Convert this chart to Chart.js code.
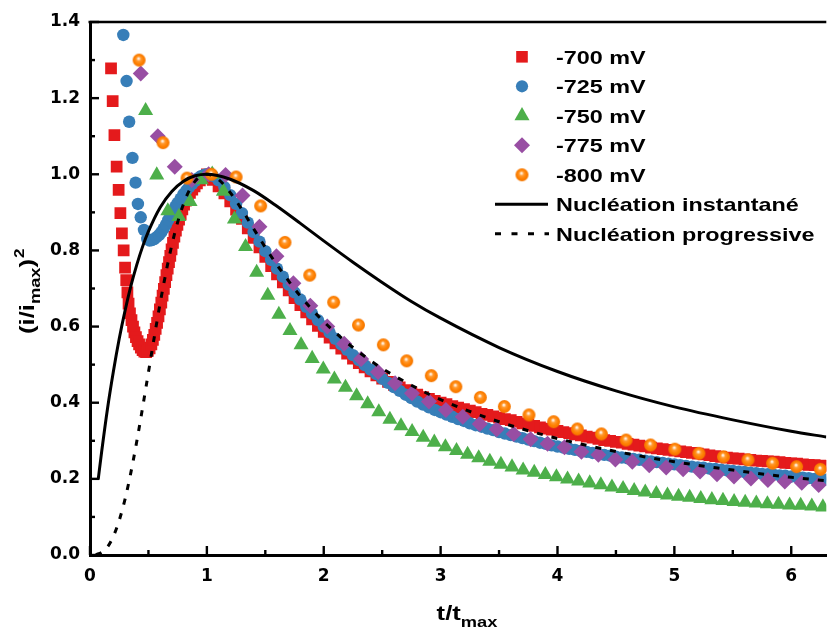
<!DOCTYPE html>
<html>
<head>
<meta charset="utf-8">
<script src="https://cdn.jsdelivr.net/npm/chart.js@4/dist/chart.umd.min.js"></script>
<style>
  html, body { margin: 0; padding: 0; background: #fff; overflow: hidden; width: 833px; height: 631px; }
  #wrap { position: absolute; left: 0; top: 0; width: 835px; height: 631px; }
</style>
</head>
<body>
<div id="wrap"><canvas id="c" width="835" height="631"></canvas></div>
<script>
// ---- Axis ticks ----
const xTicks = [0, 1, 2, 3, 4, 5, 6];
const xMinorTicks = [0.5, 1.5, 2.5, 3.5, 4.5, 5.5];
const yTicks = [0, 0.2, 0.4, 0.6, 0.8, 1.0, 1.2, 1.4];
const yMinorTicks = [0.1, 0.3, 0.5, 0.7, 0.9, 1.1, 1.3];

// ---- Shared t/tmax sampling of the long-time part of the -700 / -725 mV transients ----
const tailT = [
  1.00,1.05,1.10,1.15,1.20,1.25,1.30,1.35,1.40,1.45,
  1.50,1.55,1.60,1.65,1.70,1.75,1.80,1.85,1.90,1.95,
  2.00,2.05,2.10,2.15,2.20,2.25,2.30,2.35,2.40,2.45,
  2.50,2.55,2.60,2.65,2.70,2.75,2.80,2.85,2.90,2.95,
  3.00,3.05,3.10,3.15,3.20,3.25,3.30,3.35,3.40,3.45,
  3.50,3.55,3.60,3.65,3.70,3.75,3.80,3.85,3.90,3.95,
  4.00,4.05,4.10,4.15,4.20,4.25,4.30,4.35,4.40,4.45,
  4.50,4.55,4.60,4.65,4.70,4.75,4.80,4.85,4.90,4.95,
  5.00,5.05,5.10,5.15,5.20,5.25,5.30,5.35,5.40,5.45,
  5.50,5.55,5.60,5.65,5.70,5.75,5.80,5.85,5.90,5.95,
  6.00,6.05,6.10,6.15,6.20,6.25,6.30
];

// ---- -700 mV ----
const t700early = [
  0.15,0.18,0.194,0.209,0.228,0.245,0.26,0.273,0.288,0.3,
  0.31,0.32,0.33,0.342,0.355,0.368,0.38,0.393,0.407,0.42,
  0.435,0.45,0.465,0.48,0.495,0.51,0.525,0.538,0.55,0.562,
  0.574,0.586,0.598,0.61,0.621,0.632,0.643,0.654,0.665,0.676,
  0.687,0.698,0.71,0.722,0.735,0.748,0.762,0.776,0.79,0.805,
  0.82,0.837,0.855,0.875,0.895,0.915,0.94,0.965
];
const i700early = [
  1.42,1.278,1.192,1.103,1.02,0.959,0.898,0.845,0.8,0.755,
  0.722,0.69,0.66,0.635,0.617,0.6,0.585,0.572,0.562,0.553,
  0.545,0.538,0.534,0.533,0.536,0.543,0.553,0.565,0.578,0.594,
  0.61,0.627,0.645,0.663,0.681,0.699,0.717,0.735,0.752,0.769,
  0.786,0.803,0.82,0.836,0.852,0.867,0.881,0.895,0.908,0.92,
  0.931,0.941,0.951,0.96,0.968,0.976,0.984,0.992
];
const i700tail = [
  1.0,0.985,0.968,0.95,0.929,0.907,0.883,0.858,0.833,0.808,
  0.783,0.759,0.737,0.716,0.695,0.675,0.656,0.637,0.619,0.602,
  0.586,0.571,0.556,0.542,0.529,0.516,0.504,0.493,0.482,0.472,
  0.463,0.455,0.447,0.44,0.433,0.427,0.421,0.415,0.41,0.405,
  0.4,0.396,0.391,0.387,0.383,0.379,0.375,0.371,0.368,0.364,
  0.361,0.357,0.354,0.35,0.346,0.343,0.339,0.335,0.332,0.329,
  0.326,0.323,0.32,0.317,0.314,0.311,0.308,0.305,0.302,0.3,
  0.297,0.295,0.292,0.29,0.287,0.285,0.282,0.28,0.278,0.276,
  0.274,0.272,0.27,0.268,0.266,0.264,0.262,0.26,0.258,0.256,
  0.254,0.253,0.251,0.25,0.248,0.247,0.246,0.245,0.244,0.242,
  0.241,0.24,0.238,0.237,0.236,0.235,0.234
];

// ---- -725 mV ----
const t725early = [
  0.285,0.313,0.335,0.363,0.39,0.41,0.434,0.462,0.49,0.51,
  0.53,0.55,0.57,0.59,0.61,0.63,0.65,0.67,0.69,0.71,
  0.73,0.75,0.775,0.8,0.825,0.85,0.875,0.9,0.925,0.95,
  0.975
];
const i725early = [
  1.366,1.245,1.138,1.043,0.978,0.922,0.887,0.854,0.83,0.826,
  0.827,0.83,0.835,0.84,0.848,0.857,0.868,0.88,0.892,0.904,
  0.915,0.925,0.936,0.948,0.958,0.967,0.975,0.983,0.99,0.995,
  0.998
];
const i725tail = [
  1.0,0.996,0.984,0.966,0.945,0.922,0.898,0.873,0.848,0.823,
  0.798,0.775,0.752,0.731,0.71,0.69,0.671,0.652,0.634,0.617,
  0.6,0.584,0.568,0.553,0.539,0.525,0.512,0.499,0.487,0.475,
  0.463,0.452,0.441,0.431,0.421,0.412,0.403,0.395,0.388,0.381,
  0.375,0.369,0.363,0.357,0.352,0.346,0.341,0.337,0.332,0.328,
  0.323,0.319,0.315,0.311,0.307,0.303,0.299,0.295,0.292,0.288,
  0.285,0.282,0.279,0.276,0.273,0.271,0.268,0.266,0.263,0.261,
  0.258,0.256,0.254,0.252,0.25,0.248,0.246,0.244,0.242,0.24,
  0.238,0.236,0.234,0.232,0.23,0.229,0.227,0.226,0.224,0.222,
  0.221,0.219,0.218,0.216,0.215,0.213,0.212,0.211,0.209,0.208,
  0.206,0.205,0.203,0.202,0.2,0.199,0.198
];

// ---- -750 mV ----
const t750 = [
  0.381,0.476,0.571,0.666,0.761,0.856,0.951,1.046,1.141,1.236,
  1.331,1.426,1.521,1.616,1.711,1.806,1.901,1.996,2.091,2.186,
  2.281,2.376,2.471,2.566,2.661,2.756,2.851,2.946,3.041,3.136,
  3.231,3.326,3.421,3.516,3.611,3.706,3.801,3.896,3.991,4.086,
  4.181,4.276,4.371,4.466,4.561,4.656,4.751,4.846,4.941,5.036,
  5.131,5.226,5.321,5.416,5.511,5.606,5.701,5.796,5.891,5.986,
  6.081,6.176,6.271
];
const i750 = [
  1.42,1.167,0.998,0.904,0.889,0.928,0.985,1.0,0.955,0.882,
  0.81,0.742,0.682,0.632,0.589,0.552,0.516,0.488,0.462,0.44,
  0.418,0.397,0.376,0.356,0.339,0.324,0.309,0.296,0.284,0.274,
  0.264,0.255,0.246,0.238,0.231,0.223,0.217,0.211,0.205,0.199,
  0.194,0.189,0.184,0.178,0.174,0.169,0.165,0.161,0.157,0.154,
  0.151,0.148,0.145,0.143,0.14,0.138,0.136,0.134,0.133,0.131,
  0.13,0.128,0.126
];

// ---- -775 mV ----
const t775 = [
  0.434,0.58,0.725,0.87,1.015,1.16,1.305,1.45,1.595,1.74,
  1.885,2.03,2.175,2.32,2.465,2.61,2.755,2.9,3.045,3.19,
  3.335,3.48,3.625,3.77,3.915,4.06,4.205,4.35,4.495,4.64,
  4.785,4.93,5.075,5.22,5.365,5.51,5.655,5.8,5.945,6.09,
  6.235
];
const i775 = [
  1.265,1.1,1.02,0.985,1.0,0.998,0.944,0.862,0.785,0.714,
  0.655,0.6,0.555,0.515,0.481,0.451,0.425,0.403,0.381,0.363,
  0.344,0.33,0.318,0.304,0.292,0.283,0.271,0.263,0.251,0.245,
  0.236,0.23,0.225,0.219,0.212,0.206,0.201,0.197,0.193,0.19,
  0.184
];

// ---- -800 mV ----
const t800 = [
  0.42,0.625,0.83,1.04,1.25,1.46,1.668,1.88,2.085,2.297,
  2.51,2.71,2.92,3.13,3.34,3.545,3.756,3.967,4.17,4.376,
  4.587,4.796,5.004,5.21,5.42,5.63,5.84,6.046,6.25
];
const i800 = [
  1.30,1.083,0.99,1.0,0.993,0.917,0.821,0.735,0.664,0.604,
  0.552,0.51,0.471,0.442,0.414,0.39,0.368,0.35,0.331,0.318,
  0.302,0.289,0.278,0.267,0.258,0.25,0.241,0.232,0.225
];

// ---- Theoretical curves (Scharifker-Hills) ----
const tInst = [0.07,0.1,0.15,0.2,0.25,0.3,0.35,0.4,0.45,0.5,0.6,0.7,0.8,0.9,1.0,1.2,1.4,1.6,1.8,2.0,2.25,2.5,2.75,3.0,3.5,4.0,4.5,5.0,5.5,6.0,6.3];
const iInst = [0.198,0.272,0.385,0.482,0.568,0.642,0.707,0.762,0.81,0.85,0.913,0.955,0.982,0.996,1.0,0.987,0.957,0.916,0.871,0.825,0.769,0.716,0.666,0.622,0.545,0.482,0.431,0.389,0.355,0.325,0.31];
const tProg = [0.05,0.1,0.15,0.2,0.25,0.3,0.35,0.4,0.45,0.5,0.55,0.6,0.65,0.7,0.75,0.8,0.85,0.9,0.95,1.0,1.1,1.2,1.3,1.4,1.5,1.6,1.8,2.0,2.25,2.5,2.75,3.0,3.5,4.0,4.5,5.0,5.5,6.0,6.3];
const iProg = [0.001,0.007,0.021,0.049,0.091,0.147,0.217,0.298,0.387,0.48,0.572,0.661,0.742,0.814,0.874,0.922,0.958,0.982,0.996,1.0,0.986,0.952,0.907,0.857,0.808,0.762,0.68,0.613,0.545,0.49,0.446,0.408,0.35,0.306,0.272,0.245,0.223,0.204,0.195];

const seriesNames = ['-700 mV', '-725 mV', '-750 mV', '-775 mV', '-800 mV', 'Nucléation instantané', 'Nucléation progressive'];

const RED = '#E41A1C', BLUE = '#377EB8', GREEN = '#4DAF4A', PURPLE = '#984EA3', ORANGE = '#FF7F00';

function pairs(xs, ys) { return xs.map((x, i) => ({ x: x, y: ys[i] })); }

// shaded orange ball used as the -800 mV marker
function sphere(r) {
  const s = Math.ceil(2 * r + 2);
  const c = document.createElement('canvas');
  c.width = c.height = s;
  const g = c.getContext('2d');
  const cx = s / 2, cy = s / 2;
  const grad = g.createRadialGradient(cx - r * 0.1, cy - r * 0.28, 0, cx, cy, r);
  grad.addColorStop(0, '#ffffff');
  grad.addColorStop(0.13, '#ffe6cc');
  grad.addColorStop(0.35, '#ff9a30');
  grad.addColorStop(0.7, '#ff8000');
  grad.addColorStop(1, '#f27600');
  g.fillStyle = grad;
  g.beginPath(); g.arc(cx, cy, r, 0, Math.PI * 2); g.fill();
  return c;
}
const ball = sphere(6.5);

const markerCommon = { showLine: false, clip: 0, pointBorderWidth: 0, borderWidth: 0, pointHoverRadius: 0 };

const datasets = [
  Object.assign({ label: seriesNames[0], data: pairs(t700early.concat(tailT), i700early.concat(i700tail)),
    pointStyle: 'rect', pointRadius: 8.3, pointBackgroundColor: RED, pointBorderColor: RED, order: 6 }, markerCommon),
  Object.assign({ label: seriesNames[1], data: pairs(t725early.concat(tailT), i725early.concat(i725tail)),
    pointStyle: 'circle', pointRadius: 6.2, pointBackgroundColor: BLUE, pointBorderColor: BLUE, order: 5 }, markerCommon),
  Object.assign({ label: seriesNames[2], data: pairs(t750, i750),
    pointStyle: 'triangle', pointRadius: 8.7, pointBackgroundColor: GREEN, pointBorderColor: GREEN, order: 4 }, markerCommon),
  Object.assign({ label: seriesNames[3], data: pairs(t775, i775),
    pointStyle: 'rectRot', pointRadius: 8, pointBackgroundColor: PURPLE, pointBorderColor: PURPLE, order: 3 }, markerCommon),
  Object.assign({ label: seriesNames[4], data: pairs(t800, i800),
    pointStyle: ball, pointRadius: 6.5, pointBackgroundColor: ORANGE, pointBorderColor: ORANGE, order: 2 }, markerCommon),
  { label: seriesNames[5], data: pairs(tInst, iInst), showLine: true, pointRadius: 0, borderColor: '#000', borderWidth: 3,
    tension: 0.4, cubicInterpolationMode: 'monotone', fill: false, order: 1, clip: 0 },
  { label: seriesNames[6], data: pairs(tProg, iProg), showLine: true, pointRadius: 0, borderColor: '#000', borderWidth: 3,
    borderDash: [6, 9], borderCapStyle: 'butt', tension: 0.4, cubicInterpolationMode: 'monotone', fill: false, order: 0, clip: 0 }
];

function boldText(ctx, str, x, y, size, sx, align) {
  ctx.save();
  ctx.font = 'bold ' + size + 'px "Liberation Sans", Arial, sans-serif';
  const w = ctx.measureText(str).width * sx;
  const dx = align === 'center' ? -w / 2 : (align === 'right' ? -w : 0);
  ctx.translate(x + dx, y);
  ctx.scale(sx, 1);
  ctx.textAlign = 'left';
  ctx.textBaseline = 'alphabetic';
  ctx.fillStyle = '#000';
  ctx.fillText(str, 0, 0);
  ctx.restore();
  return w;
}

// inward tick marks and the top frame line
const frameTicks = {
  id: 'frameTicks',
  afterDatasetsDraw(chart) {
    const { ctx, chartArea: a, scales: { x, y } } = chart;
    ctx.save();
    ctx.strokeStyle = '#000';
    ctx.lineCap = 'butt';
    ctx.lineWidth = 2.6;
    ctx.beginPath(); ctx.moveTo(a.left - 1.5, a.top); ctx.lineTo(a.right, a.top); ctx.stroke();
    ctx.lineWidth = 2.4;
    const tick = (x1, y1, x2, y2) => { ctx.beginPath(); ctx.moveTo(x1, y1); ctx.lineTo(x2, y2); ctx.stroke(); };
    xTicks.forEach(v => { const p = x.getPixelForValue(v); tick(p, a.bottom, p, a.bottom - 9); });
    xMinorTicks.forEach(v => { const p = x.getPixelForValue(v); tick(p, a.bottom, p, a.bottom - 5); });
    yTicks.forEach(v => { const p = y.getPixelForValue(v); tick(a.left, p, a.left + 9, p); });
    yMinorTicks.forEach(v => { const p = y.getPixelForValue(v); tick(a.left, p, a.left + 5, p); });
    ctx.restore();
  }
};

// axis titles with sub/superscripts and the in-plot legend
const annotations = {
  id: 'annotations',
  afterDraw(chart) {
    const ctx = chart.ctx;
    // x title: t/t_max
    const mainSize = 21, subSize = 15, sx = 1.22;
    ctx.save();
    ctx.font = 'bold ' + mainSize + 'px "Liberation Sans", Arial';
    const w1 = ctx.measureText('t/t').width * sx;
    ctx.font = 'bold ' + subSize + 'px "Liberation Sans", Arial';
    const w2 = ctx.measureText('max').width * sx;
    ctx.restore();
    const cx = 467, start = cx - (w1 + w2) / 2;
    boldText(ctx, 't/t', start, 620, mainSize, sx, 'left');
    boldText(ctx, 'max', start + w1, 627, subSize, sx, 'left');

    // y title: (i/i_max)^2, rotated
    ctx.save();
    ctx.translate(34, 334);
    ctx.rotate(-Math.PI / 2);
    let p = 0;
    p += boldText(ctx, '(i/i', p, 0, mainSize, sx, 'left');
    p += boldText(ctx, 'max', p, 6, subSize, sx, 'left');
    p += boldText(ctx, ')', p, 0, mainSize, sx, 'left');
    boldText(ctx, '2', p + 1, -10, 14, sx, 'left');
    ctx.restore();

    // legend
    const rows = [56.8, 86.3, 115.8, 145.3, 174.8, 204.3, 233.8];
    const mx = 522, tx = 556, lsize = 19, lsx = 1.23;
    ctx.save();
    ctx.fillStyle = RED; ctx.fillRect(mx - 5.8, rows[0] - 5.8, 11.6, 11.6);
    ctx.fillStyle = BLUE; ctx.beginPath(); ctx.arc(mx, rows[1], 6.1, 0, Math.PI * 2); ctx.fill();
    ctx.fillStyle = GREEN; ctx.beginPath();
    ctx.moveTo(mx, rows[2] - 8.7); ctx.lineTo(mx + 7.5, rows[2] + 4.35); ctx.lineTo(mx - 7.5, rows[2] + 4.35); ctx.closePath(); ctx.fill();
    ctx.fillStyle = PURPLE; ctx.beginPath();
    ctx.moveTo(mx, rows[3] - 8); ctx.lineTo(mx + 8, rows[3]); ctx.lineTo(mx, rows[3] + 8); ctx.lineTo(mx - 8, rows[3]); ctx.closePath(); ctx.fill();
    ctx.drawImage(ball, mx - ball.width / 2, rows[4] - ball.height / 2);
    ctx.strokeStyle = '#000'; ctx.lineWidth = 3; ctx.lineCap = 'butt';
    ctx.beginPath(); ctx.moveTo(495, rows[5]); ctx.lineTo(548, rows[5]); ctx.stroke();
    ctx.setLineDash([6, 10.5]);
    ctx.beginPath(); ctx.moveTo(495, rows[6]); ctx.lineTo(549, rows[6]); ctx.stroke();
    ctx.restore();
    seriesNames.forEach((n, i) => boldText(ctx, n, tx, rows[i] + 6.8, lsize, lsx, 'left'));
  }
};

new Chart(document.getElementById('c'), {
  type: 'scatter',
  data: { datasets: datasets },
  options: {
    responsive: false,
    devicePixelRatio: 1,
    animation: false,
    events: [],
    layout: { padding: { left: 0, right: 0, top: 22, bottom: 0 } },
    plugins: { legend: { display: false }, tooltip: { enabled: false }, title: { display: false } },
    scales: {
      x: {
        type: 'linear', min: 0, max: 6.3,
        afterBuildTicks: s => { s.ticks = xTicks.map(v => ({ value: v })); },
        afterFit: s => { s.height = 76; },
        grid: { display: false, drawTicks: false },
        border: { display: true, color: '#000', width: 3 },
        ticks: { color: '#000', padding: 11, maxRotation: 0, font: { family: 'DejaVu Sans', weight: 'bold', size: 17 },
          callback: v => String(v) }
      },
      y: {
        type: 'linear', min: 0, max: 1.4,
        afterBuildTicks: s => { s.ticks = yTicks.map(v => ({ value: v })); },
        afterFit: s => { s.width = 90; },
        grid: { display: false, drawTicks: false },
        border: { display: true, color: '#000', width: 3 },
        ticks: { color: '#000', padding: 10, font: { family: 'DejaVu Sans', weight: 'bold', size: 17 },
          callback: v => Number(v).toFixed(1) }
      }
    }
  },
  plugins: [frameTicks, annotations]
});
</script>
</body>
</html>
